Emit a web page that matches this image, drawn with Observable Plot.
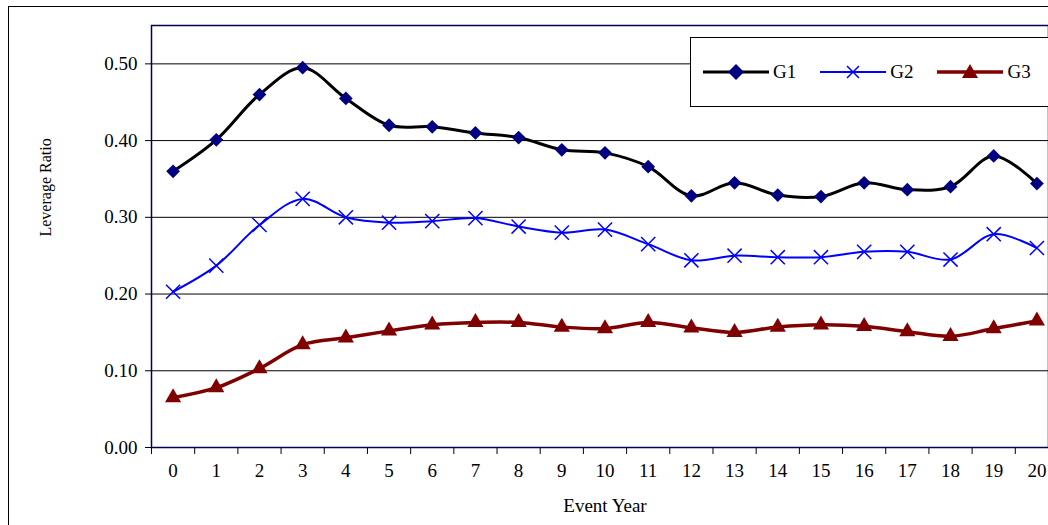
<!DOCTYPE html>
<html>
<head>
<meta charset="utf-8">
<script src="https://cdn.jsdelivr.net/npm/d3@7"></script>
<script src="https://cdn.jsdelivr.net/npm/@observablehq/plot@0.6"></script>
<style>
  body { margin: 0; background: #fff; }
  #wrap { position: relative; width: 1048px; height: 525px; overflow: hidden; font-family: "Liberation Serif", serif; }
  #frame { position: absolute; left: 8px; top: 6px; width: 1100px; height: 600px; border-left: 1.5px solid #000; border-top: 1.5px solid #000; }
  #legend { position: absolute; left: 690px; top: 37px; width: 370px; height: 70px; border: 1px solid #000; background: #fff;
    display: flex; align-items: center; gap: 24px; padding-left: 12px; box-sizing: border-box; font-size: 19px; }
  #legend span { display: inline-flex; align-items: center; gap: 4px; }
</style>
</head>
<body>
<div id="wrap">
  <div id="frame"></div>
  <div id="chart"></div>
  <div id="legend"></div>
</div>
<script>
const years = d3.range(0, 21);
const g1 = [0.360, 0.401, 0.460, 0.495, 0.455, 0.420, 0.418, 0.410, 0.404, 0.388, 0.384, 0.366, 0.328, 0.345, 0.329, 0.327, 0.345, 0.336, 0.340, 0.380, 0.344];
const g2 = [0.203, 0.237, 0.290, 0.324, 0.300, 0.293, 0.295, 0.299, 0.288, 0.280, 0.284, 0.265, 0.244, 0.250, 0.248, 0.248, 0.255, 0.255, 0.245, 0.278, 0.260];
const g3 = [0.065, 0.078, 0.103, 0.134, 0.143, 0.152, 0.160, 0.163, 0.163, 0.157, 0.155, 0.163, 0.156, 0.150, 0.157, 0.160, 0.158, 0.151, 0.145, 0.155, 0.165];
const yTicks = [0, 0.1, 0.2, 0.3, 0.4, 0.5];

const series = [
  { name: "G1", values: g1, line: "#000000", mark: "#000080", symbol: "square", width: 3, r: 5.5 },
  { name: "G2", values: g2, line: "#0000FF", mark: "#0000FF", symbol: "times", width: 2, r: 6.5 },
  { name: "G3", values: g3, line: "#800000", mark: "#800000", symbol: "triangle", width: 3.5, r: 6 }
];

const bounds = years.map(d => d - 0.5).concat([years.length - 0.5]);

const marks = [
  Plot.ruleY(yTicks.slice(1), { stroke: "#000", strokeWidth: 1 }),
  Plot.axisY({ ticks: yTicks, tickFormat: d3.format(".2f"), tickSize: 6, tickPadding: 8, fontSize: 19, label: null }),
  Plot.axisX({ ticks: bounds, tickFormat: () => "", tickSize: 7, label: null }),
  Plot.axisX({ ticks: years, tickSize: 0, tickPadding: 16, fontSize: 19, label: null }),
  Plot.frame({ stroke: "#000050", strokeWidth: 1.5 })
];
for (const s of series) {
  const data = years.map((x, i) => ({ x, y: s.values[i] }));
  marks.push(Plot.line(data, { x: "x", y: "y", stroke: s.line, strokeWidth: s.width, curve: "catmull-rom" }));
  if (s.symbol === "times") {
    marks.push(Plot.dot(data, { x: "x", y: "y", symbol: "times", stroke: s.mark, strokeWidth: 1.5, r: s.r }));
  } else if (s.symbol === "square") {
    marks.push(Plot.dot(data, { x: "x", y: "y", symbol: "square", fill: s.mark, r: s.r, rotate: 45 }));
  } else {
    marks.push(Plot.dot(data, { x: "x", y: "y", symbol: s.symbol, fill: s.mark, r: s.r }));
  }
}

const chart = Plot.plot({
  width: 1048,
  height: 525,
  marginTop: 25,
  marginLeft: 151,
  marginRight: 0,
  marginBottom: 78,
  style: { fontFamily: "Liberation Serif", fontSize: "19px", background: "transparent", color: "#000" },
  x: { type: "linear", domain: [-0.5, 20.5], range: [151, 1058] },
  y: { domain: [0, 0.55] },
  marks: marks.concat([
    Plot.text(["Leverage Ratio"], { frameAnchor: "left", dx: -106, rotate: -90, fontSize: 16 }),
    Plot.text(["Event Year"], { x: 10, y: 0, dy: 58, fontSize: 19, textAnchor: "middle" })
  ])
});
chart.style.position = "absolute";
chart.style.left = "0";
chart.style.top = "0";
chart.style.overflow = "visible";
document.getElementById("chart").append(chart);

const legend = document.getElementById("legend");
for (const s of series) {
  const item = document.createElement("span");
  let sym;
  if (s.symbol === "square") sym = `<path d="M33,1 L41,9 L33,17 L25,9 Z" fill="${s.mark}"/>`;
  else if (s.symbol === "times") sym = `<path d="M27,3 L39,15 M39,3 L27,15" stroke="${s.mark}" stroke-width="1.5"/>`;
  else sym = `<path d="M33,1 L41,15 L25,15 Z" fill="${s.mark}"/>`;
  item.innerHTML = `<svg width="66" height="18"><line x1="0" x2="66" y1="9" y2="9" stroke="${s.line}" stroke-width="${s.width}"/>${sym}</svg>${s.name}`;
  legend.append(item);
}
</script>
</body>
</html>
